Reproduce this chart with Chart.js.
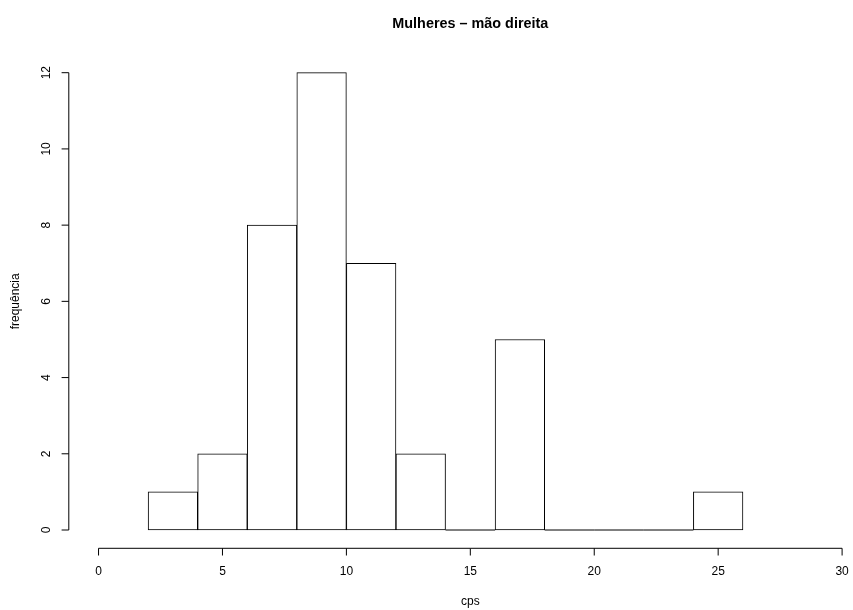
<!DOCTYPE html>
<html lang="pt">
<head>
<meta charset="utf-8">
<title>Mulheres – mão direita</title>
<script src="https://cdn.jsdelivr.net/npm/chart.js@4.4.1/dist/chart.umd.min.js"></script>
<style>
  html, body { margin: 0; padding: 0; background: #ffffff; }
  canvas { display: block; }
</style>
</head>
<body>
<canvas id="hist" width="853" height="610"></canvas>
<script>
// histograma: classes de largura 2, começando em 2
const binStarts = [2, 4, 6, 8, 10, 12, 14, 16, 18, 20, 22, 24];
const binWidth = 2;
const counts = [1, 2, 8, 12, 7, 2, 0, 5, 0, 0, 0, 1];

const xTicks = [0, 5, 10, 15, 20, 25, 30];
const yTicks = [0, 2, 4, 6, 8, 10, 12];

const mainTitle = "Mulheres – mão direita";
const xLabel = "cps";
const yLabel = "frequência";

const FONT = "'Liberation Sans', Arial, Helvetica, sans-serif";

// eixos no estilo do R: linha só entre o primeiro e o último tick
const rAxes = {
  id: "rAxes",
  afterDatasetsDraw(chart) {
    const { ctx, chartArea, scales } = chart;
    const xs = scales.x, ys = scales.y;
    const tick = 7.2;

    // classes vazias: retângulo de altura zero vira linha na base
    const meta = chart.getDatasetMeta(0);
    ctx.save();
    ctx.strokeStyle = "#000";
    ctx.lineWidth = 1;
    meta.data.forEach((bar, i) => {
      if (counts[i] !== 0) return;
      ctx.beginPath();
      ctx.moveTo(bar.x - bar.width / 2, bar.base);
      ctx.lineTo(bar.x + bar.width / 2, bar.base);
      ctx.stroke();
    });

    // eixo x
    const yb = chartArea.bottom;
    ctx.beginPath();
    ctx.moveTo(xs.getPixelForValue(xTicks[0]), yb);
    ctx.lineTo(xs.getPixelForValue(xTicks[xTicks.length - 1]), yb);
    xTicks.forEach(v => {
      const px = xs.getPixelForValue(v);
      ctx.moveTo(px, yb);
      ctx.lineTo(px, yb + tick);
    });
    ctx.stroke();

    ctx.fillStyle = "#000";
    ctx.font = "12px " + FONT;
    ctx.textAlign = "center";
    ctx.textBaseline = "middle";
    xTicks.forEach(v => ctx.fillText(String(v), xs.getPixelForValue(v), 572));

    // eixo y
    const xl = chartArea.left;
    ctx.beginPath();
    ctx.moveTo(xl, ys.getPixelForValue(yTicks[0]));
    ctx.lineTo(xl, ys.getPixelForValue(yTicks[yTicks.length - 1]));
    yTicks.forEach(v => {
      const py = ys.getPixelForValue(v);
      ctx.moveTo(xl, py);
      ctx.lineTo(xl - tick, py);
    });
    ctx.stroke();

    yTicks.forEach(v => {
      ctx.save();
      ctx.translate(46.5, ys.getPixelForValue(v));
      ctx.rotate(-Math.PI / 2);
      ctx.fillText(String(v), 0, 0);
      ctx.restore();
    });

    // títulos
    const xMid = xs.getPixelForValue(15);
    const yMid = (chartArea.top + chartArea.bottom) / 2;
    ctx.font = "bold 14.4px " + FONT;
    ctx.fillText(mainTitle, xMid, 24);

    ctx.font = "12px " + FONT;
    ctx.textBaseline = "alphabetic";
    ctx.fillText(xLabel, xMid, 604.5);

    ctx.save();
    ctx.translate(19, yMid);
    ctx.rotate(-Math.PI / 2);
    ctx.fillText(yLabel, 0, 0);
    ctx.restore();

    ctx.restore();
  }
};

const points = binStarts.map((s, i) => ({ x: s + binWidth / 2, y: counts[i] }));

new Chart(document.getElementById("hist"), {
  type: "bar",
  data: {
    datasets: [{
      data: points,
      backgroundColor: "#ffffff",
      borderColor: "#000000",
      borderWidth: 1,
      borderSkipped: false,
      barPercentage: 1,
      categoryPercentage: 1
    }]
  },
  options: {
    responsive: false,
    devicePixelRatio: 1,
    animation: false,
    layout: { padding: { left: 68.8, right: 0, top: 54.4, bottom: 61.7 } },
    scales: {
      x: { type: "linear", min: -1.2, max: 30.44, offset: false, display: false },
      y: { type: "linear", min: -0.48, max: 12.48, display: false }
    },
    plugins: {
      legend: { display: false },
      title: { display: false },
      tooltip: { enabled: false }
    }
  },
  plugins: [rAxes]
});
</script>
</body>
</html>
